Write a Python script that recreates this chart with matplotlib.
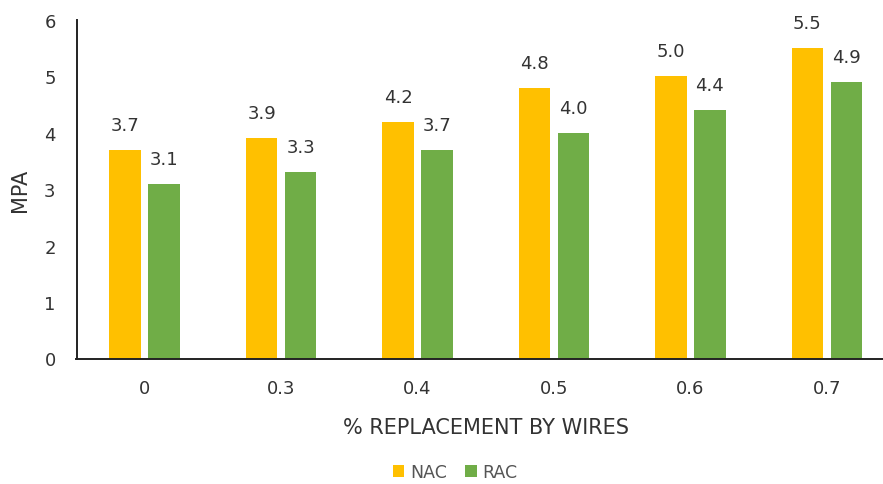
import matplotlib
matplotlib.use("Agg")
import matplotlib.pyplot as plt
import numpy as np

categories = ["0", "0.3", "0.4", "0.5", "0.6", "0.7"]
nac = [3.7, 3.9, 4.2, 4.8, 5.0, 5.5]
rac = [3.1, 3.3, 3.7, 4.0, 4.4, 4.9]
series_names = ["NAC", "RAC"]
y_ticks = [0, 1, 2, 3, 4, 5, 6]

NAC_COLOR = "#FFC000"
RAC_COLOR = "#70AD47"
TEXT = "#333333"
FS = 13
TITLE_FS = 15

plt.rcParams["font.family"] = ["DejaVu Sans"]

fig = plt.figure(figsize=(8.83, 4.85), dpi=100)
W, H = 883, 485
left, right, top, bottom = 76.5, 895, 21, 359.5
ax = fig.add_axes([left / W, 1 - bottom / H, (right - left) / W, (bottom - top) / H])

x = np.arange(len(categories))
bw = 0.231
off = 0.143
b1 = ax.bar(x - off, nac, bw, color=NAC_COLOR, label=series_names[0])
b2 = ax.bar(x + off, rac, bw, color=RAC_COLOR, label=series_names[1])

for bars, vals in ((b1, nac), (b2, rac)):
    for r, v in zip(bars, vals):
        ax.annotate(f"{v:.1f}", (r.get_x() + r.get_width() / 2, v),
                    xytext=(0, 18), textcoords="offset points",
                    ha="center", va="center", fontsize=FS, color=TEXT)

ax.set_xlim(-0.5, len(categories) - 0.5)
ax.set_ylim(0, 6)
ax.set_yticks(y_ticks)
ax.set_xticks(x)
ax.set_xticklabels(categories)
ax.tick_params(axis="both", length=0, labelsize=FS, labelcolor=TEXT)
ax.tick_params(axis="y", pad=15)
ax.tick_params(axis="x", pad=15)

for s in ("top", "right"):
    ax.spines[s].set_visible(False)
for s in ("left", "bottom"):
    ax.spines[s].set_color("#222222")
    ax.spines[s].set_linewidth(1.4)

ax.set_ylabel("MPA", fontsize=TITLE_FS, color=TEXT, labelpad=10)
ax.set_xlabel("% REPLACEMENT BY WIRES", fontsize=TITLE_FS, color=TEXT, labelpad=14)

fig.legend(handles=[b1, b2], loc="center", bbox_to_anchor=(455 / W, 1 - 473 / H),
           ncol=2, frameon=False, fontsize=12.5, handlelength=0.67, handleheight=0.67,
           handletextpad=0.33, columnspacing=1.05, labelcolor="#555555")

fig.savefig("out.png", dpi=100)
